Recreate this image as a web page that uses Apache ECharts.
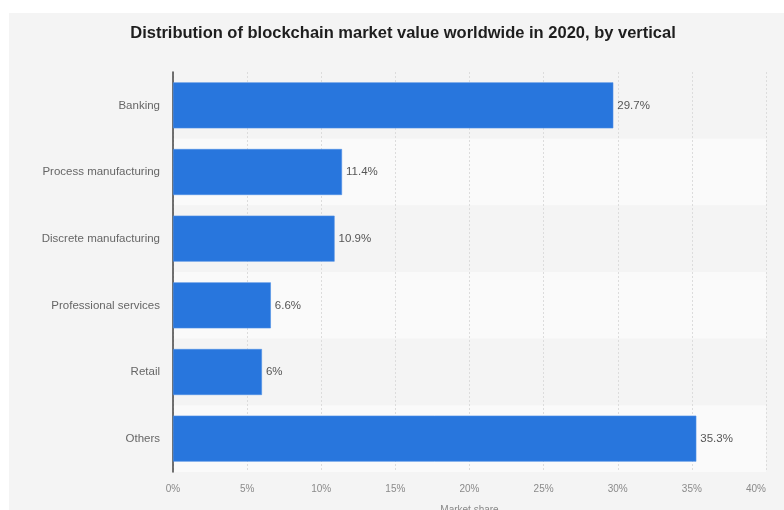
<!DOCTYPE html>
<html>
<head>
<meta charset="utf-8">
<script src="https://cdn.jsdelivr.net/npm/echarts@6/dist/echarts.min.js"></script>
<style>
  html, body { margin: 0; padding: 0; background: #ffffff; }
  #chart { width: 784px; height: 510px; }
</style>
</head>
<body>
<div id="chart"></div>
<script>
// Blockchain market value share by vertical, 2020
const categories = ['Banking', 'Process manufacturing', 'Discrete manufacturing', 'Professional services', 'Retail', 'Others'];
const shares = [29.7, 11.4, 10.9, 6.6, 6, 35.3];
const xTicks = [0, 5, 10, 15, 20, 25, 30, 35, 40];

const chart = echarts.init(document.getElementById('chart'), null, { renderer: 'canvas' });

chart.setOption({
  backgroundColor: '#ffffff',
  animation: false,
  graphic: [{
    type: 'rect',
    z: -10,
    silent: true,
    shape: { x: 9, y: 13, width: 800, height: 520 },
    style: { fill: '#f4f4f4' }
  }],
  title: {
    text: 'Distribution of blockchain market value worldwide in 2020, by vertical',
    left: 398,
    textAlign: 'center',
    top: 20,
    textStyle: {
      fontFamily: 'Liberation Sans, Arial, sans-serif',
      fontSize: 16.5,
      fontWeight: 'bold',
      color: '#1e1e1e'
    }
  },
  grid: { left: 173, right: 18, top: 72, bottom: 38, containLabel: false, outerBoundsMode: 'none' },
  xAxis: {
    type: 'value',
    min: xTicks[0],
    max: xTicks[xTicks.length - 1],
    interval: 5,
    name: 'Market share',
    nameLocation: 'middle',
    nameGap: 33,
    nameTextStyle: { fontFamily: 'Liberation Sans, Arial, sans-serif', fontSize: 10, color: '#888' },
    axisLine: { show: false },
    axisTick: { show: false },
    axisLabel: {
      margin: 12,
      fontFamily: 'Liberation Sans, Arial, sans-serif',
      fontSize: 10,
      color: '#8a8a8a',
      alignMaxLabel: 'right',
      formatter: v => v + '%'
    },
    splitLine: { show: true, lineStyle: { color: '#dcdcdc', type: [2, 2], width: 1 } }
  },
  yAxis: {
    type: 'category',
    data: categories,
    inverse: true,
    axisLine: { show: true, lineStyle: { color: '#444', width: 1.5 } },
    axisTick: { show: false },
    axisLabel: {
      margin: 13,
      fontFamily: 'Liberation Sans, Arial, sans-serif',
      fontSize: 11.5,
      color: '#666'
    },
    splitLine: { show: false },
    splitArea: { show: true, areaStyle: { color: ['#f4f4f4', '#fafafa'] } }
  },
  series: [{
    type: 'bar',
    data: shares,
    barCategoryGap: '31%',
    itemStyle: { color: '#2876dd', borderColor: '#4d8fe6', borderWidth: 0.6 },
    label: {
      show: true,
      position: 'right',
      distance: 4,
      fontFamily: 'Liberation Sans, Arial, sans-serif',
      fontSize: 11.5,
      color: '#555',
      formatter: p => p.value + '%'
    }
  }]
});
</script>
</body>
</html>
